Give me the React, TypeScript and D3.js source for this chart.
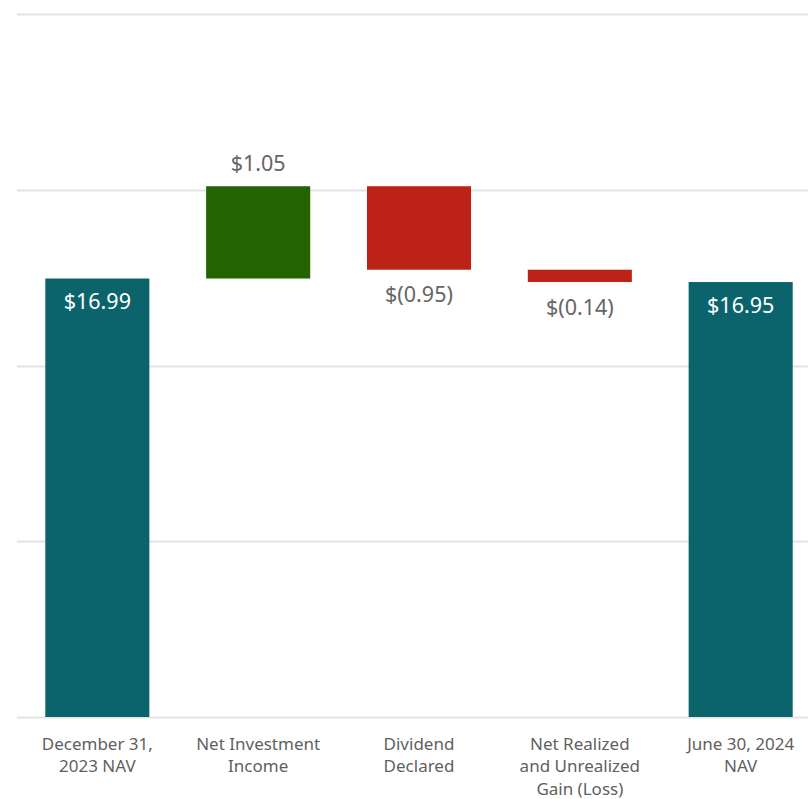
import { useEffect, useRef } from 'react'
import * as d3 from 'd3'

const categories = [
  ['December 31,', '2023 NAV'],
  ['Net Investment', 'Income'],
  ['Dividend', 'Declared'],
  ['Net Realized', 'and Unrealized', 'Gain (Loss)'],
  ['June 30, 2024', 'NAV'],
]
// kind: total bars start at the axis, deltas float
const kinds = ['total', 'delta', 'delta', 'delta', 'total']
const values = [16.99, 1.05, -0.95, -0.14, 16.95]
const labels = ['$16.99', '$1.05', '$(0.95)', '$(0.14)', '$16.95']
const gridTicks = [12, 14, 16, 18, 20]

export default function App() {
  const ref = useRef<SVGSVGElement>(null)

  useEffect(() => {
    if (!ref.current) return
    const svg = d3.select(ref.current)
    svg.selectAll('*').remove()

    const width = 808
    const height = 799
    const font = '"Noto Sans", sans-serif'

    const x = d3.scaleBand<number>()
      .domain(d3.range(categories.length))
      .range([17, 821])
      .paddingInner(0.353)
      .paddingOuter(0.176)

    const y = d3.scaleLinear().domain([12, 20]).range([717, 14])

    // gridlines
    svg.append('g')
      .selectAll('line')
      .data(gridTicks)
      .join('line')
      .attr('x1', 17)
      .attr('x2', width)
      .attr('y1', d => Math.round(y(d)) + 0.5)
      .attr('y2', d => Math.round(y(d)) + 0.5)
      .attr('stroke', '#e3e3e3')
      .attr('stroke-width', 2)

    // waterfall steps
    let running = 0
    const bars = values.map((v, i) => {
      let lo: number, hi: number
      if (kinds[i] === 'total') {
        lo = 12
        hi = v
        running = v
      } else {
        const start = running
        running = start + v
        lo = Math.min(start, running)
        hi = Math.max(start, running)
      }
      const color = kinds[i] === 'total' ? '#0b646c' : v >= 0 ? '#236300' : '#bd2216'
      return { i, v, lo, hi, color }
    })

    svg.append('g')
      .selectAll('rect')
      .data(bars)
      .join('rect')
      .attr('x', d => x(d.i)!)
      .attr('width', x.bandwidth())
      .attr('y', d => y(d.hi))
      .attr('height', d => y(d.lo) - y(d.hi))
      .attr('fill', d => d.color)

    // value labels
    svg.append('g')
      .selectAll('text')
      .data(bars)
      .join('text')
      .attr('x', d => x(d.i)! + x.bandwidth() / 2)
      .attr('y', d => {
        if (kinds[d.i] === 'total') return y(d.hi) + 25
        if (d.v >= 0) return y(d.hi) - 21
        return y(d.lo) + 27
      })
      .attr('dominant-baseline', 'middle')
      .attr('text-anchor', 'middle')
      .style('font-family', font)
      .style('font-size', '21.5px')
      .style('fill', d => (kinds[d.i] === 'total' ? '#ffffff' : '#666666'))
      .text(d => labels[d.i])

    // category labels
    const cat = svg.append('g')
      .selectAll('text')
      .data(categories)
      .join('text')
      .attr('x', (_, i) => x(i)! + x.bandwidth() / 2)
      .attr('y', 745)
      .attr('text-anchor', 'middle')
      .style('font-family', font)
      .style('font-size', '17px')
      .style('fill', '#5f5f5f')

    cat.selectAll('tspan')
      .data(d => d)
      .join('tspan')
      .attr('x', function () {
        return (this.parentNode as SVGTextElement).getAttribute('x')
      })
      .attr('dy', (_, j) => (j === 0 ? 0 : 22.5))
      .attr('dominant-baseline', 'middle')
      .text(d => d)

    svg.attr('width', width).attr('height', height)
  }, [])

  return (
    <svg
      ref={ref}
      style={{ position: 'absolute', left: 0, top: 0, display: 'block', background: '#fff' }}
    />
  )
}
